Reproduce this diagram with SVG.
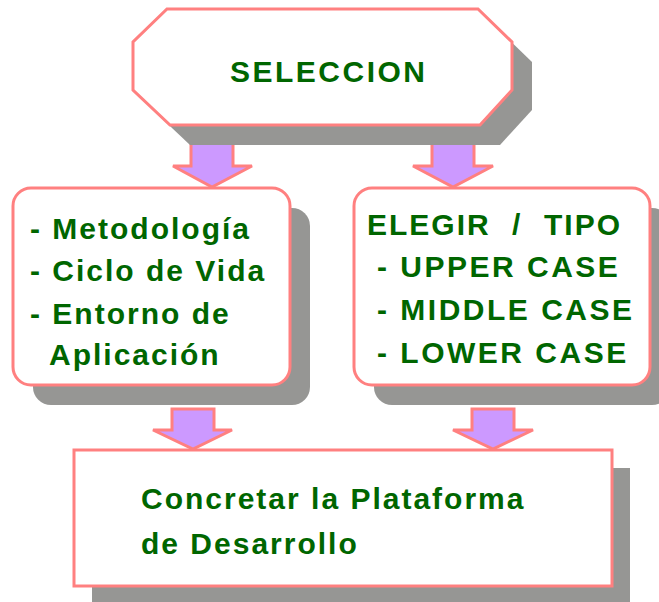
<svg xmlns="http://www.w3.org/2000/svg" width="659" height="602" viewBox="0 0 659 602">
<style>
.shadow{fill:#969694;stroke:none}
.box{fill:#ffffff;stroke:#ff8080;stroke-width:3}
.arrow{fill:#cc99ff;stroke:#ff8080;stroke-width:3;stroke-linejoin:miter}
.t{font-family:"Liberation Sans",Arial,sans-serif;font-weight:bold;font-size:30px;fill:#006600;letter-spacing:2px}
</style>
<rect width="659" height="602" fill="#ffffff"/>
<g id="connectors">
<path class="arrow" d="M191,140 H233 V166 H252 L212,187 L173,166 H191 Z"/>
<path class="arrow" d="M432,140 H474 V166 H493 L453,187 L413,166 H432 Z"/>
<path class="arrow" d="M172,409 H214 V430 H232 L193,449 L153,430 H172 Z"/>
<path class="arrow" d="M472,409 H514 V430 H533 L493,449 L453,430 H472 Z"/>
</g>
<g id="seleccion">
<polygon class="shadow" points="187,29 498,29 532,62 532,110 500,145 190,145 153,110 153,62"/>
<polygon class="box" points="167,9 478,9 512,42 512,90 480,125 170,125 133,90 133,42"/>
<text class="t" x="230" y="82" style="letter-spacing:2.5px">SELECCION</text>
</g>
<g id="metodologia">
<rect class="shadow" x="33" y="208" width="277" height="197" rx="18"/>
<rect class="box" x="13" y="188" width="277" height="197" rx="18"/>
<text class="t" x="30" y="239">- Metodología</text>
<text class="t" x="30" y="281">- Ciclo de Vida</text>
<text class="t" x="30" y="324">- Entorno de</text>
<text class="t" x="49" y="365">Aplicación</text>
</g>
<g id="tipo">
<rect class="shadow" x="374" y="208" width="296" height="197" rx="18"/>
<rect class="box" x="354" y="188" width="296" height="197" rx="18"/>
<text class="t" x="367" y="235">ELEGIR <tspan x="512">/</tspan> <tspan x="544">TIPO</tspan></text>
<text class="t" x="377" y="277" style="letter-spacing:2.5px">- UPPER CASE</text>
<text class="t" x="377" y="320" style="letter-spacing:2.5px">- MIDDLE CASE</text>
<text class="t" x="377" y="363" style="letter-spacing:2.5px">- LOWER CASE</text>
</g>
<g id="plataforma">
<rect class="shadow" x="92" y="468" width="538" height="136"/>
<rect class="box" x="74" y="450" width="538" height="136"/>
<text class="t" x="141" y="509">Concretar la Plataforma</text>
<text class="t" x="141" y="554">de Desarrollo</text>
</g>
</svg>
